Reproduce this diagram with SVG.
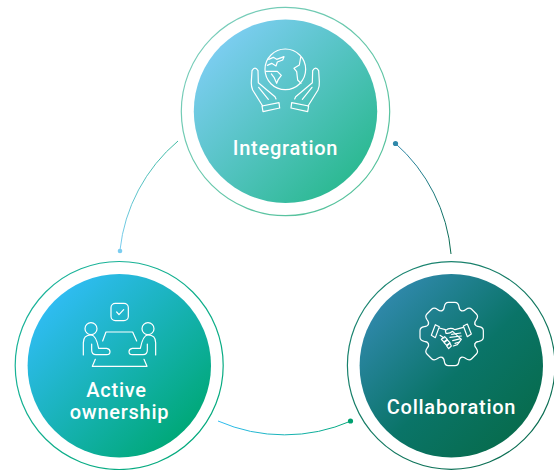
<svg xmlns="http://www.w3.org/2000/svg" xmlns:xlink="http://www.w3.org/1999/xlink" width="554" height="470" viewBox="0 0 554 470">
<style>
.ic{fill:none;stroke:#fff;stroke-linecap:round;stroke-linejoin:round;stroke-width:3.6}
.lb{font-family:"Roboto","Liberation Sans",sans-serif;font-weight:500;font-size:20px;fill:#fff;text-anchor:middle;letter-spacing:.75px}
.ring{fill:#fff;stroke-width:1.2}
.arc{fill:none;stroke-width:1}
</style>
<defs>
<linearGradient id="g1" x1=".14" y1=".14" x2=".86" y2=".86"><stop offset="0" stop-color="#7bcdf0"/><stop offset="1" stop-color="#2cb992"/></linearGradient>
<linearGradient id="g2" x1=".14" y1=".14" x2=".86" y2=".86"><stop offset="0" stop-color="#2fbcf2"/><stop offset="1" stop-color="#00a878"/></linearGradient>
<linearGradient id="g3" x1=".14" y1=".14" x2=".86" y2=".86"><stop offset="0" stop-color="#2f88aa"/><stop offset=".55" stop-color="#0a7468"/><stop offset="1" stop-color="#076c4e"/></linearGradient>
<linearGradient id="r1" x1="0" y1="0" x2="1" y2="1"><stop offset="0" stop-color="#7fcfc0"/><stop offset="1" stop-color="#4dbf95"/></linearGradient>
<linearGradient id="r2" x1="0" y1="0" x2="1" y2="1"><stop offset="0" stop-color="#1fb5a0"/><stop offset="1" stop-color="#00a878"/></linearGradient>
<linearGradient id="r3" x1="0" y1="0" x2="1" y2="1"><stop offset="0" stop-color="#1f8a78"/><stop offset="1" stop-color="#07694c"/></linearGradient>
<linearGradient id="a1" gradientUnits="userSpaceOnUse" x1="120" y1="250" x2="178" y2="141"><stop offset="0" stop-color="#7bcdf0"/><stop offset="1" stop-color="#3cb9a0"/></linearGradient>
<linearGradient id="a2" gradientUnits="userSpaceOnUse" x1="395" y1="143" x2="451" y2="254"><stop offset="0" stop-color="#2f88aa"/><stop offset="1" stop-color="#07694c"/></linearGradient>
<linearGradient id="a3" gradientUnits="userSpaceOnUse" x1="218" y1="421" x2="351" y2="421"><stop offset="0" stop-color="#2fbcf2"/><stop offset="1" stop-color="#00a878"/></linearGradient>
<path id="tooth" d="M-29-70Q-23-72-22-82Q-20-95-10-95H10Q20-95 22-82Q23-72 29-70"/>
<g id="hand"><path d="M278 318L248 270Q243 258 244 245L246 212Q255 197 264 212L265 248L315 290L318 297M266 262L295 298"/><path d="M276 318L327 308L329 324L279 335Z"/></g>
<g id="person"><circle cx="273" cy="236" r="18"/><path d="M250 315V278Q250 255 273 255Q288 255 296 295H320Q330 297 330 305Q330 314 320 314H288Q275 314 275 300V282"/></g>
</defs>
<g id="connectors">
<path class="arc" stroke="url(#a1)" d="M178 141A166.5 166.5 0 0 0 120 250"/>
<circle cx="120" cy="251" r="2.300" fill="#7bcdf0"/>
<path class="arc" stroke="url(#a2)" d="M395 143A166.5 166.5 0 0 1 451 254"/>
<circle cx="395.500" cy="143.500" r="2.600" fill="#2f88aa"/>
<path class="arc" stroke="url(#a3)" d="M218 421A166.500 166.500 0 0 0 351 421"/>
<circle cx="350.500" cy="421" r="2.600" fill="#00a070"/>
</g>
<g id="integration">
<circle class="ring" cx="285.500" cy="111.500" r="104.200" stroke="url(#r1)"/>
<circle cx="285.500" cy="111.200" r="91.700" fill="url(#g1)"/>
<g transform="translate(170 0) scale(.33333)" class="ic">
<circle cx="346" cy="208" r="61"/>
<path d="M296 178L310 172L320 178L342 170L338 180L322 186L318 198L305 190L292 196M288 214H322L334 226L325 238L320 250L312 232L304 222"/>
<path d="M392 172L388 195L372 205L380 215L383 240L393 250"/>
<use xlink:href="#hand"/>
<use xlink:href="#hand" transform="matrix(-1 0 0 1 692 0)"/>
</g>
<text class="lb" x="285.500" y="155">Integration</text>
</g>
<g id="active-ownership">
<circle class="ring" cx="119.200" cy="365.500" r="104" stroke="url(#r2)"/>
<circle cx="119.300" cy="365.700" r="91.700" fill="url(#g2)"/>
<g transform="translate(0 250) scale(.33333)" class="ic">
<rect x="333" y="160" width="52" height="52" rx="13"/>
<path d="M350 186L357 194L371 179"/>
<use xlink:href="#person"/>
<use xlink:href="#person" transform="matrix(-1 0 0 1 717 0)"/>
<path d="M308 273L318 246H398L410 273M286 328L277 349H441L432 328"/>
</g>
<text class="lb" x="116.500" y="396.700">Active</text>
<text class="lb" x="119.500" y="418.500">ownership</text>
</g>
<g id="collaboration">
<circle class="ring" cx="451.200" cy="365.500" r="103.800" stroke="url(#r3)"/>
<circle cx="451.300" cy="365.700" r="91.700" fill="url(#g3)"/>
<g transform="translate(340 260) scale(.33333)" class="ic">
<g transform="translate(335 222)">
<use xlink:href="#tooth"/><use xlink:href="#tooth" transform="rotate(45)"/><use xlink:href="#tooth" transform="rotate(90)"/><use xlink:href="#tooth" transform="rotate(135)"/><use xlink:href="#tooth" transform="rotate(180)"/><use xlink:href="#tooth" transform="rotate(225)"/><use xlink:href="#tooth" transform="rotate(270)"/><use xlink:href="#tooth" transform="rotate(315)"/>
</g>
<path d="M286 194L298 200L286 233L274 226ZM382 192L370 198L382 230L394 222Z"/>
<path d="M298 204L316 209M370 202L345 209Q330 200 316 212L318 220Q328 222 338 214L364 238M300 226L312 234M340 258L352 254L364 238"/>
<path d="M335 223L362 219M330 232L364 228M338 242L362 236M345 250L358 246"/>
<path d="M304 238L314 230L322 238L312 246ZM312 248L322 240L330 248L320 256ZM320 258L330 250L334 258L326 266Z"/>
</g>
<text class="lb" x="451.500" y="413.500">Collaboration</text>
</g>
</svg>
